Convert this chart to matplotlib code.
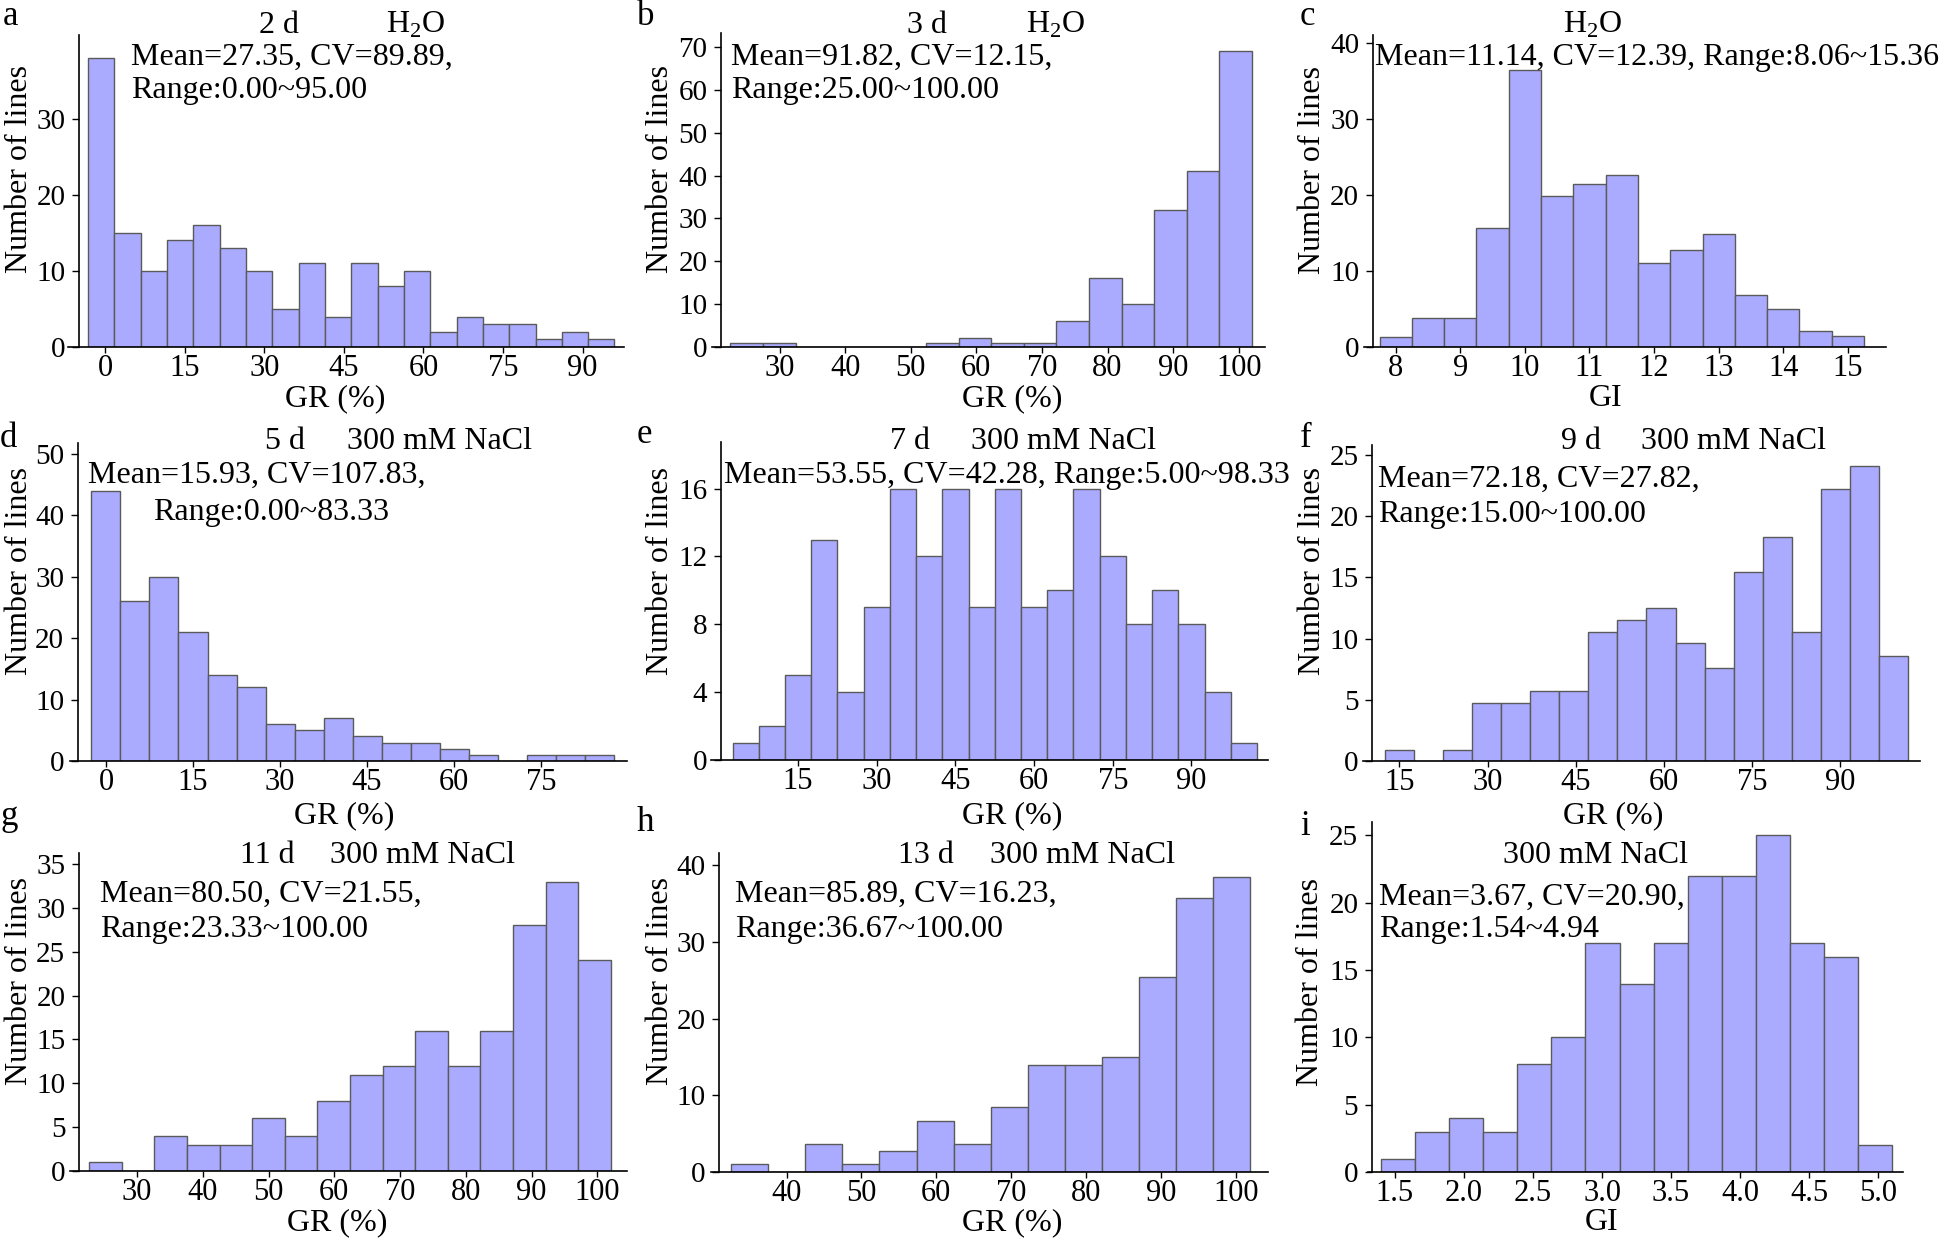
import matplotlib
matplotlib.use("Agg")
import matplotlib.pyplot as plt
import numpy as np

plt.rcParams['font.family'] = ['Liberation Serif', 'DejaVu Serif']
plt.rcParams['mathtext.fontset'] = 'custom'
plt.rcParams['mathtext.rm'] = 'Liberation Serif'

W, H = 1946, 1239

# histogram counts, first bin edge and bin width
counts_a = [38, 15, 10, 14, 16, 13, 10, 5, 11, 4, 11, 8, 10, 2, 4, 3, 3, 1, 2, 1]
bins_a = (-3.2, 4.96)
counts_b = [1, 1, 0, 0, 0, 0, 1, 2, 1, 1, 6, 16, 10, 32, 41, 69]
bins_b = (22.5, 4.97)
counts_c = [1.3, 3.8, 3.8, 15.7, 36.5, 19.9, 21.5, 22.7, 11.0, 12.8, 14.9, 6.8, 5.0, 2.1, 1.5]
bins_c = (7.75, 0.5)
counts_d = [44, 26, 30, 21, 14, 12, 6, 5, 7, 4, 3, 3, 2, 1, 0, 1, 1, 1]
bins_d = (-2.5, 5.0)
counts_e = [1, 2, 5, 13, 4, 9, 16, 12, 16, 9, 16, 9, 10, 16, 12, 8, 10, 8, 4, 1]
bins_e = (2.5, 5.0)
counts_f = [0.9, 0, 0.9, 4.7, 4.7, 5.7, 5.7, 10.5, 11.5, 12.5, 9.6, 7.6, 15.4, 18.3, 10.5, 22.2, 24.1, 8.6]
bins_f = (12.5, 4.95)
counts_g = [1, 0, 4, 3, 3, 6, 4, 8, 11, 12, 16, 12, 16, 28, 33, 24]
bins_g = (22.7, 4.96)
counts_h = [1.0, 0, 3.7, 1.0, 2.8, 6.6, 3.7, 8.5, 14.0, 14.0, 15.0, 25.4, 35.7, 38.5]
bins_h = (32.6, 4.95)
counts_i = [1, 3, 4, 3, 8, 10, 17, 14, 17, 22, 22, 25, 17, 16, 2]
bins_i = (1.40, 0.2467)

days = ["2 d", "3 d", "", "5 d", "7 d", "9 d", "11 d", "13 d", ""]
treat = [r"H$_2$O"] * 3 + ["300 mM NaCl"] * 6
stats1 = ["Mean=27.35, CV=89.89,", "Mean=91.82, CV=12.15,",
          "Mean=11.14, CV=12.39, Range:8.06~15.36", "Mean=15.93, CV=107.83,",
          "Mean=53.55, CV=42.28, Range:5.00~98.33", "Mean=72.18, CV=27.82,",
          "Mean=80.50, CV=21.55,", "Mean=85.89, CV=16.23,", "Mean=3.67, CV=20.90,"]
stats2 = ["Range:0.00~95.00", "Range:25.00~100.00", "", "Range:0.00~83.33", "",
          "Range:15.00~100.00", "Range:23.33~100.00", "Range:36.67~100.00",
          "Range:1.54~4.94"]
xlabels = ["GR (%)", "GR (%)", "GI", "GR (%)", "GR (%)", "GR (%)", "GR (%)", "GR (%)", "GI"]
letters = list("abcdefghi")

counts = [counts_a, counts_b, counts_c, counts_d, counts_e, counts_f, counts_g, counts_h, counts_i]
bins = [bins_a, bins_b, bins_c, bins_d, bins_e, bins_f, bins_g, bins_h, bins_i]

xticks = [range(0, 91, 15), range(30, 101, 10), range(8, 16), range(0, 76, 15),
          range(15, 91, 15), range(15, 91, 15), range(30, 101, 10), range(40, 101, 10),
          [1.5, 2.0, 2.5, 3.0, 3.5, 4.0, 4.5, 5.0]]
yticks = [range(0, 31, 10), range(0, 71, 10), range(0, 41, 10), range(0, 51, 10),
          range(0, 17, 4), range(0, 26, 5), range(0, 36, 5), range(0, 41, 10), range(0, 26, 5)]

# layout in pixels: axes box (left, right, top, bottom), xlim, y-spine position, ylim top
boxes = [(68, 624, 35, 347), (712, 1265, 33, 347), (1364, 1886, 35, 347),
         (70, 627, 443, 761), (711, 1268, 442, 760), (1363, 1920, 445, 761),
         (70, 627, 853, 1171), (711, 1268, 853, 1172), (1368, 1903, 822, 1172)]
xlims = [(-7.0, 97.8), (19.7, 104.0), (7.51, 15.59), (-6.2, 89.8), (-1.6, 104.6),
         (8.8, 103.6), (19.8, 104.5), (29.9, 104.3), (1.305, 5.18)]
yspine = [-4.85, 21.1, 7.65, -4.8, 0.3, 10.4, 21.2, 31.0, 1.335]
ytop = [41.0, 73.3, 41.1, 51.8, 18.75, 25.8, 36.25, 41.6, 26.0]

# text anchors in pixels
letter_xy = [(3, 0), (637, 0), (1300, 0), (0, 422), (637, 418), (1300, 422),
             (0, 800), (637, 806), (1300, 810)]
day_xy = [(259, 33), (907, 33), None, (265, 449), (890, 449), (1561, 449),
          (240, 863), (898, 863), None]
treat_xy = [(386, 33), (1026, 33), (1563, 33), (347, 449), (971, 449), (1641, 449),
            (330, 863), (990, 863), (1503, 863)]
s1_xy = [(131, 65), (731, 65), (1375, 65), (88, 483), (724, 483), (1378, 487),
         (100, 902), (735, 902), (1379, 905)]
s2_xy = [(131, 98), (731, 98), None, (153, 520), None, (1378, 522),
         (100, 937), (735, 937), (1379, 937)]
ylab_xy = [(20, 169), (660, 169), (1312, 170), (20, 571), (660, 571), (1312, 571),
           (20, 981), (660, 981), (1310, 982)]
xlab_xy = [(335, 406), (1012, 406), (1606, 406), (344, 823), (1012, 823), (1613, 823),
           (337, 1230), (1012, 1230), (1602, 1230)]

FS = 23
fig = plt.figure(figsize=(W / 100, H / 100), dpi=100)


def put(xy, s, **kw):
    fig.text(xy[0] / W, 1 - xy[1] / H, s, **kw)


for k in range(9):
    l, r, t, b = boxes[k]
    ax = fig.add_axes([l / W, 1 - b / H, (r - l) / W, (b - t) / H])
    start, width = bins[k]
    edges = start + width * np.arange(len(counts[k]))
    ax.bar(edges, counts[k], width=width, align='edge', color='#aaaaff',
           edgecolor='#5a5a5a', linewidth=1.0, zorder=2)
    ax.set_xlim(*xlims[k])
    ax.set_ylim(0, ytop[k])
    ax.spines['top'].set_visible(False)
    ax.spines['right'].set_visible(False)
    ax.spines['left'].set_position(('data', yspine[k]))
    for s in ('left', 'bottom'):
        ax.spines[s].set_linewidth(1.2)
        ax.spines[s].set_zorder(3)
    ax.set_xticks(list(xticks[k]))
    ax.set_yticks(list(yticks[k]))
    if k in (2, 8):
        ax.set_xticklabels([f"{v:g}" if k == 2 else f"{v:.1f}" for v in xticks[k]])
    ax.tick_params(axis='x', direction='out', length=4, width=1, pad=1, labelsize=22)
    ax.tick_params(axis='y', direction='out', length=5, width=1, pad=5, labelsize=21)
    ax.patch.set_alpha(0)

    put(letter_xy[k], letters[k], fontsize=25, ha='left', va='top')
    if day_xy[k] is not None:
        put(day_xy[k], days[k], fontsize=FS, ha='left', va='baseline')
    put(treat_xy[k], treat[k], fontsize=FS, ha='left', va='baseline')
    put(s1_xy[k], stats1[k], fontsize=FS, ha='left', va='baseline')
    if s2_xy[k] is not None:
        put(s2_xy[k], stats2[k], fontsize=FS, ha='left', va='baseline')
    put(ylab_xy[k], "Number of lines", fontsize=FS, rotation=90, ha='center', va='center')
    put(xlab_xy[k], xlabels[k], fontsize=FS, ha='center', va='baseline')

fig.savefig("out.png", dpi=100)
